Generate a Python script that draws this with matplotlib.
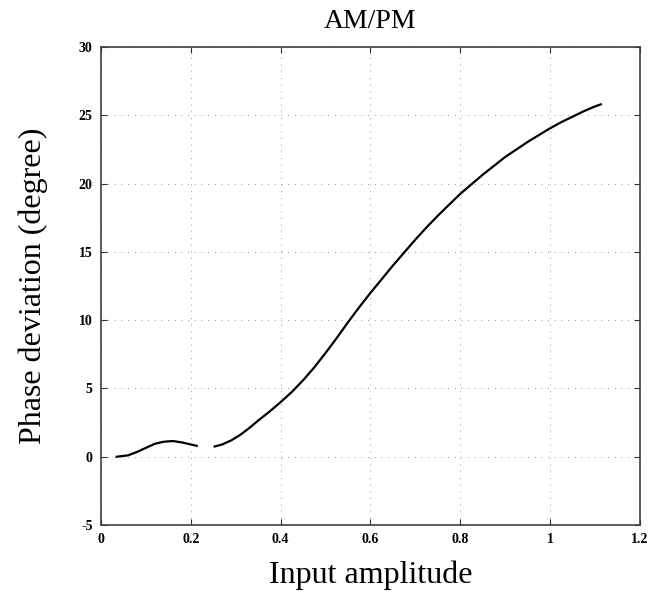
import numpy as np
import matplotlib
matplotlib.use("Agg")
import matplotlib.pyplot as plt

# Data (NaN = gap visible in the scanned curve)
amplitude = [0.035, 0.06, 0.08, 0.10, 0.12, 0.14, 0.16, 0.18, 0.20, 0.213,
             0.232,
             0.253, 0.27, 0.29, 0.31, 0.33, 0.35, 0.375, 0.40, 0.425, 0.45,
             0.475, 0.50, 0.525, 0.55, 0.575, 0.60, 0.625, 0.65, 0.675, 0.70,
             0.725, 0.75, 0.775, 0.80, 0.825, 0.85, 0.875, 0.90, 0.925, 0.95,
             0.975, 1.00, 1.025, 1.05, 1.075, 1.10, 1.113]
phase_dev = [0.0, 0.1, 0.35, 0.65, 0.95, 1.1, 1.15, 1.05, 0.9, 0.8,
             np.nan,
             0.75, 0.9, 1.2, 1.6, 2.1, 2.65, 3.3, 4.0, 4.75, 5.6,
             6.55, 7.6, 8.7, 9.85, 10.95, 12.0, 13.0, 14.0, 14.95, 15.9,
             16.8, 17.65, 18.45, 19.25, 19.95, 20.65, 21.3, 21.95, 22.5, 23.05,
             23.55, 24.05, 24.5, 24.9, 25.3, 25.65, 25.8]

xticks = [0, 0.2, 0.4, 0.6, 0.8, 1.0, 1.2]
xtick_labels = ["0", "0.2", "0.4", "0.6", "0.8", "1", "1.2"]
yticks = [-5, 0, 5, 10, 15, 20, 25, 30]
ytick_labels = ["-5", "0", "5", "10", "15", "20", "25", "30"]

plt.rcParams['font.family'] = ['Liberation Serif', 'DejaVu Serif']

fig = plt.figure(figsize=(6.53, 5.95), dpi=100)
ax = fig.add_axes([0.1547, 0.1176, 0.8253, 0.8034])

ax.plot(amplitude, phase_dev, color='black', lw=1.6)

ax.set_xlim(0, 1.2)
ax.set_ylim(-5, 30)
ax.set_xticks(xticks)
ax.set_xticklabels(xtick_labels, fontsize=10, fontweight='bold')
ax.set_yticks(yticks)
ax.set_yticklabels(ytick_labels, fontsize=10, fontweight='bold')
ax.tick_params(direction='in', top=True, right=True, length=4, width=0.8,
               color='0.2', pad=6)

ax.grid(True, color='0.45', lw=0.6, linestyle=(0, (1, 7)))
for s in ax.spines.values():
    s.set_color('0.25')
    s.set_linewidth(1.2)

ax.set_title("AM/PM", fontsize=20, pad=14)
ax.set_xlabel("Input amplitude", fontsize=23, labelpad=10)
ax.set_ylabel("Phase deviation (degree)", fontsize=23, labelpad=22)

fig.savefig("out.png", dpi=100)
